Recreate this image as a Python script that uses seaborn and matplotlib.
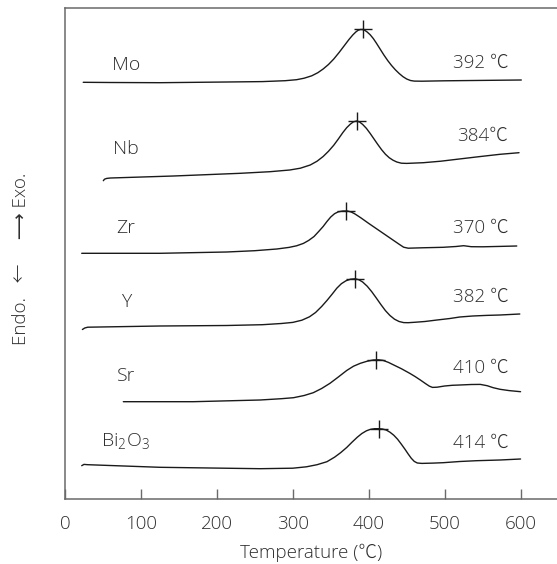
import matplotlib
matplotlib.use("Agg")
import matplotlib.pyplot as plt
import seaborn as sns
import pandas as pd

# ---- data (temperature in °C, signal in arbitrary stacked units) ----
samples = ["Mo", "Nb", "Zr", "Y", "Sr", "Bi$_\\mathregular{2}$O$_\\mathregular{3}$"]
peak_labels = ["392 \u2103", "384\u2103", "370 \u2103", "382 \u2103", "410 \u2103", "414 \u2103"]
peak_temps = [392, 384, 370, 382, 410, 414]
peak_heights = [470.7, 379.5, 289.0, 221.5, 140.0, 71.5]
name_heights = [435.5, 351, 272.5, 198, 124, 59]
label_heights = [436.7, 364, 272, 203, 132, 57]

mo_temp = [24, 60, 125, 213, 260, 290, 305, 315, 325, 333, 340, 347, 354, 361, 368, 374,
           379, 383, 386, 389, 392, 395, 398, 402, 406, 410, 415, 420, 425, 430, 435, 440,
           445, 450, 455, 460, 470, 500, 550, 601]
mo_signal = [417.7, 417.5, 417.3, 418, 418.4, 419.3, 420.3, 421.8, 424.2, 427.3, 431, 435.5,
             441, 447.5, 454.5, 460.5, 465, 468, 469.7, 470.5, 470.5, 469.6, 468, 465.2,
             461.5, 457, 451, 445, 439.5, 434.6, 430.3, 426.6, 423.4, 421, 419.5, 418.9,
             418.8, 419.2, 419.6, 420]

nb_temp = [50.5, 52, 55, 60, 143, 231, 270, 296, 310, 323, 332, 340, 347, 354, 360, 366,
           371, 376, 380, 384, 388, 392, 397, 402, 407, 412, 417, 422, 427, 432, 437, 443,
           450, 472, 495, 516, 545, 573, 598]
nb_signal = [319.3, 320.8, 321.6, 322, 324, 326.7, 328.3, 330, 331.8, 335, 338.8, 343.5,
             348.7, 354.8, 361, 367.5, 372.3, 376, 378.2, 379, 378, 375.6, 371.6, 366.5,
             361, 355.5, 350.3, 345.8, 342.3, 339.8, 338, 336.8, 336.6, 337.3, 338.8, 340.7,
             343.3, 345.7, 347.3]

zr_temp = [22, 125, 213, 250, 279, 295, 305, 314, 321, 328, 334, 340, 345, 350, 355, 360,
           366, 372, 377, 382, 390, 400, 410, 420, 430, 440, 446, 452, 470, 498, 515, 525,
           535, 550, 573, 595]
zr_signal = [246.7, 246.7, 248, 249.3, 251, 252.6, 254.2, 256.6, 259.6, 263.5, 268.4, 273.5,
             278.5, 283, 286.3, 288.2, 289, 289, 288, 286, 282, 276.6, 271.4, 266.2, 261,
             255.8, 252.8, 251.8, 252.2, 252.7, 253.5, 254.3, 253.3, 253.2, 253.6, 254]

y_temp = [22.9, 26, 30, 125, 213, 260, 285, 300, 312, 322, 330, 338, 345, 352, 358, 364,
          370, 376, 382, 387, 392, 398, 404, 410, 416, 422, 428, 434, 440, 446, 452, 462,
          474, 490, 507, 520, 537, 555, 573, 599]
y_signal = [170.5, 172, 172.8, 174, 174.5, 175.3, 176.5, 177.6, 179.8, 183.2, 187.5, 193.5,
            199.5, 206, 211.8, 216.3, 219.2, 220.8, 221.2, 220.3, 218, 213.8, 208.3, 202,
            195.5, 189.4, 184.5, 180.8, 178.5, 177.4, 177.3, 177.8, 178.5, 180, 181.5, 183,
            184, 184.6, 185, 186]

sr_temp = [76.8, 169, 257, 285, 301, 315, 327, 338, 349, 360, 371, 380, 389, 398, 406, 413,
           419, 426, 433, 443, 454, 461, 468, 475, 480, 484, 490, 500, 510, 520, 535, 547,
           556, 564, 573, 585, 600]
sr_signal = [98.3, 98.3, 100, 101.3, 102.3, 104.5, 107.3, 111.5, 116.7, 123, 129.5, 133.8,
             136.7, 138.8, 140, 140.2, 139.6, 137.6, 135, 131.3, 126.7, 123.5, 120, 116.3,
             113.8, 112.6, 112.8, 114, 114.7, 115, 115.5, 115.6, 114.3, 112.3, 110.7, 109.4,
             108.3]

bi_temp = [22, 25, 30, 125, 257, 300, 318, 332, 345, 355, 363, 371, 378, 385, 391, 397,
           402, 408, 413, 418, 423, 428, 433, 438, 443, 448, 452, 456, 460, 464, 470, 485,
           498, 520, 542, 573, 600]
bi_signal = [34.3, 35.6, 35.3, 32.7, 31.3, 31.8, 33.2, 35.3, 38.3, 42.8, 47.3, 52.5, 57.8,
             62.8, 66.5, 69.2, 70.6, 71.3, 71.3, 71, 70, 67.8, 64.8, 60.8, 55.8, 50.5, 46,
             41.8, 38.6, 37, 36.6, 36.9, 37.3, 38.5, 39.3, 40, 41]

x_ticks = [0, 100, 200, 300, 400, 500, 600]

curves = [(mo_temp, mo_signal), (nb_temp, nb_signal), (zr_temp, zr_signal),
          (y_temp, y_signal), (sr_temp, sr_signal), (bi_temp, bi_signal)]

frames = []
for name, (t, s) in zip(samples, curves):
    frames.append(pd.DataFrame({"temp": t, "signal": s, "sample": name}))
df = pd.concat(frames, ignore_index=True)

# ---- style ----
sns.set_theme(style="white")
plt.rcParams["font.family"] = ["Open Sans", "Noto Sans CJK JP", "DejaVu Sans"]
plt.rcParams["font.weight"] = 300
plt.rcParams["axes.labelweight"] = 300
plt.rcParams["mathtext.default"] = "regular"
TEXT = "#2e2e2e"
SPINE = "#6a6a6a"
FS = 13.5

fig = plt.figure(figsize=(5.57, 5.64), dpi=100)
ax = fig.add_axes([65 / 557, (564 - 499.3) / 564, (557 - 65) / 557, (499.3 - 8.3) / 564])

sns.lineplot(data=df, x="temp", y="signal", hue="sample", units="sample", estimator=None,
             sort=False, palette=["#1a1a1a"] * len(samples), legend=False, linewidth=1.0, ax=ax)

ax.plot(peak_temps, peak_heights, linestyle="none", marker="+", markersize=13,
        markeredgewidth=1.0, color="#1a1a1a")

for name, yy in zip(samples, name_heights):
    ax.text(80, yy, name, ha="center", va="center", fontsize=FS + 0.5, color=TEXT)
for lab, yy in zip(peak_labels, label_heights):
    ax.text(584, yy, lab, ha="right", va="center", fontsize=FS, color=TEXT)

ax.set_xlim(0, 648)
ax.set_ylim(0.7, 491.7)
ax.set_xticks(x_ticks)
ax.set_xticklabels([str(v) for v in x_ticks])
ax.set_yticks([])
ax.tick_params(axis="x", direction="in", length=7.5, width=1.0, color=SPINE,
               labelsize=FS, labelcolor=TEXT, pad=11, bottom=True)
ax.set_xlabel("Temperature (\u2103)", fontsize=FS, color=TEXT, labelpad=8, fontweight=300)
ax.set_ylabel("Endo.   \u2190     \u27f6 Exo.", fontsize=FS, color=TEXT, fontweight=300)
ax.yaxis.set_label_coords(-0.072, 0.49)

for side in ["left", "top", "bottom"]:
    ax.spines[side].set_color(SPINE)
    ax.spines[side].set_linewidth(1.1)
ax.spines["right"].set_visible(False)

fig.savefig("out.png", dpi=100)
